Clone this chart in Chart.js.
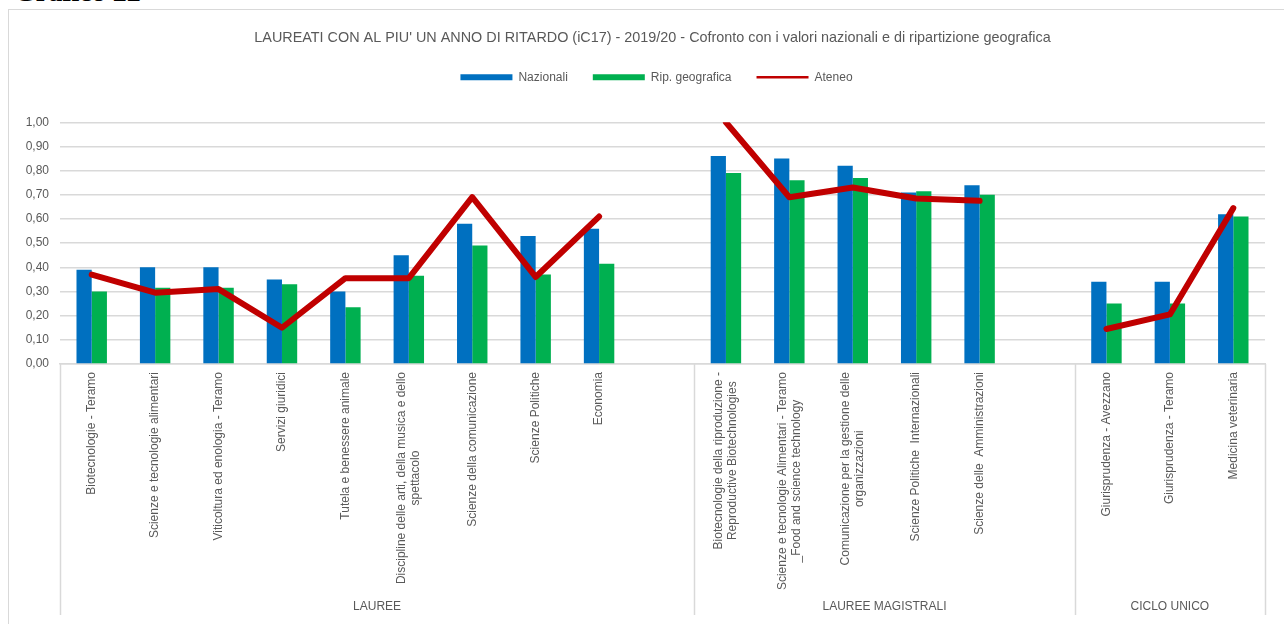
<!DOCTYPE html>
<html>
<head>
    <title>Grafico 22</title>
    <script src="https://cdn.jsdelivr.net/npm/chart.js"></script>
    <style>
        body { margin: 0; background: #fff; overflow: hidden; width: 1284px; height: 624px; position: relative; }
        #heading { position: absolute; left: 14px; top: -22px; font: bold 28px "Liberation Serif", serif; color: #000; line-height: 28px; }
        #frame { position: absolute; left: 8px; top: 9px; width: 1400px; height: 800px; border: 1px solid #d9d9d9; }
        #wrap { position: absolute; left: 0; top: 0; width: 1284px; height: 624px; }
    </style>
</head>
<body>
    <div id="heading">Grafico 22</div>
    <div id="frame"></div>
    <div id="wrap"><canvas id="ic17Chart" width="1284" height="624"></canvas></div>
    <script>
        const categories = [
            'Biotecnologie - Teramo',
            'Scienze e tecnologie alimentari',
            'Viticoltura ed enologia - Teramo',
            'Servizi giuridici',
            'Tutela e benessere animale',
            ['Discipline delle arti, della musica e dello', 'spettacolo'],
            'Scienze della comunicazione',
            'Scienze Politiche',
            'Economia',
            '',
            ['Biotecnologie della riproduzione -', 'Reproductive Biotechnologies'],
            ['Scienze e tecnologie Alimentari - Teramo', '_Food and science technology'],
            ['Comunicazione per la gestione delle', 'organizzazioni'],
            'Scienze Politiche  Internazionali',
            'Scienze delle  Amministrazioni',
            '',
            'Giurisprudenza - Avezzano',
            'Giurisprudenza - Teramo',
            'Medicina veterinaria'
        ];
        const groups = ['LAUREE', 'LAUREE MAGISTRALI', 'CICLO UNICO'];
        const groupSizes = [10, 6, 3];

        const nazionali = [0.39, 0.40, 0.40, 0.35, 0.30, 0.45, 0.58, 0.53, 0.56, null,
                           0.86, 0.85, 0.82, 0.71, 0.74, null,
                           0.34, 0.34, 0.62];
        const ripGeografica = [0.30, 0.315, 0.315, 0.33, 0.235, 0.365, 0.49, 0.37, 0.415, null,
                               0.79, 0.76, 0.77, 0.715, 0.70, null,
                               0.25, 0.25, 0.61];
        const ateneo = [0.37, 0.295, 0.31, 0.15, 0.355, 0.355, 0.69, 0.36, 0.61, null,
                        1.00, 0.69, 0.73, 0.685, 0.675, null,
                        0.145, 0.205, 0.645];

        const FONT = '"Liberation Sans", Arial, sans-serif';
        const GREY = '#595959';
        const GRID = '#d9d9d9';

        // spazio sotto la legenda e spostamento di titolo/legenda verso destra
        const layoutTweak = {
            id: 'layoutTweak',
            beforeInit(chart) {
                const fit = chart.legend.fit;
                chart.legend.fit = function () {
                    fit.call(this);
                    this.height += 29;
                };
            },
            afterLayout(chart) {
                chart.titleBlock.left += 20;
                chart.titleBlock.right += 20;
                chart.legend.left += 24;
                chart.legend.right += 24;
            }
        };

        // etichette ruotate e gruppi sotto l'asse x
        const groupAxisPlugin = {
            id: 'groupAxis',
            afterDraw(chart) {
                const xs = chart.scales.x;
                const ctx = chart.ctx;
                const bottom = 615;
                ctx.save();

                // separatori dei gruppi
                const bounds = [xs.left];
                let idx = 0;
                groupSizes.forEach(n => {
                    idx += n;
                    bounds.push(idx >= categories.length ? xs.right
                        : (xs.getPixelForValue(idx - 1) + xs.getPixelForValue(idx)) / 2);
                });
                ctx.strokeStyle = GRID;
                ctx.lineWidth = 1.5;
                bounds.forEach(b => {
                    ctx.beginPath();
                    ctx.moveTo(Math.round(b) + 0.5, xs.top);
                    ctx.lineTo(Math.round(b) + 0.5, bottom);
                    ctx.stroke();
                });

                // nomi dei corsi
                ctx.font = '12px ' + FONT;
                ctx.fillStyle = GREY;
                ctx.textAlign = 'center';
                ctx.textBaseline = 'middle';
                categories.forEach((lab, i) => {
                    if (!lab) return;
                    const lines = Array.isArray(lab) ? lab : [lab];
                    const w = Math.max(...lines.map(l => ctx.measureText(l).width));
                    ctx.save();
                    ctx.translate(xs.getPixelForValue(i), xs.top + 8 + w / 2);
                    ctx.rotate(-Math.PI / 2);
                    lines.forEach((l, j) => ctx.fillText(l, 0, (j - (lines.length - 1) / 2) * 14));
                    ctx.restore();
                });

                // nomi dei gruppi
                ctx.font = '12px ' + FONT;
                groups.forEach((g, k) => {
                    ctx.fillText(g, (bounds[k] + bounds[k + 1]) / 2, 607);
                });
                ctx.restore();
            }
        };

        new Chart(document.getElementById('ic17Chart'), {
            type: 'bar',
            data: {
                labels: categories,
                datasets: [
                    { type: 'line', label: 'Ateneo', data: ateneo, borderColor: '#C00000', backgroundColor: '#C00000',
                      borderWidth: 6, pointRadius: 0, spanGaps: false, tension: 0,
                      borderJoinStyle: 'round', borderCapStyle: 'round', order: 0 },
                    { label: 'Nazionali', data: nazionali, backgroundColor: '#0070C0', order: 1,
                      categoryPercentage: 0.48, barPercentage: 1.0 },
                    { label: 'Rip. geografica', data: ripGeografica, backgroundColor: '#00B050', order: 1,
                      categoryPercentage: 0.48, barPercentage: 1.0 }
                ]
            },
            options: {
                responsive: false,
                animation: false,
                layout: { padding: { left: 0, right: 19, top: 0, bottom: 0 } },
                plugins: {
                    title: {
                        display: true,
                        text: "LAUREATI CON AL PIU' UN ANNO DI RITARDO (iC17) - 2019/20 - Cofronto con i valori nazionali e di ripartizione geografica",
                        color: GREY,
                        font: { family: FONT, size: 14.4, weight: 'normal' },
                        padding: { top: 29, bottom: 0 }
                    },
                    legend: {
                        display: true,
                        labels: {
                            color: GREY,
                            font: { family: FONT, size: 12 },
                            usePointStyle: true,
                            pointStyleWidth: 52,
                            boxHeight: 6,
                            padding: 25,
                            generateLabels: () => [
                                { text: 'Nazionali', fillStyle: '#0070C0', strokeStyle: '#0070C0', lineWidth: 0, pointStyle: 'rect', fontColor: GREY },
                                { text: 'Rip. geografica', fillStyle: '#00B050', strokeStyle: '#00B050', lineWidth: 0, pointStyle: 'rect', fontColor: GREY },
                                { text: 'Ateneo', fillStyle: '#C00000', strokeStyle: '#C00000', lineWidth: 2.5, pointStyle: 'line', fontColor: GREY }
                            ]
                        }
                    },
                    tooltip: { enabled: false }
                },
                scales: {
                    x: {
                        offset: true,
                        grid: { display: false },
                        border: { display: true, color: GRID, width: 1.5 },
                        ticks: { display: false },
                        afterFit: s => { s.height = 260; }
                    },
                    y: {
                        min: 0,
                        max: 1,
                        ticks: {
                            stepSize: 0.1,
                            color: GREY,
                            font: { family: FONT, size: 12 },
                            padding: 11,
                            callback: v => v.toFixed(2).replace('.', ',')
                        },
                        grid: { color: GRID, lineWidth: 1.5, drawTicks: false },
                        border: { display: false },
                        afterFit: s => { s.width = 60; }
                    }
                }
            },
            plugins: [layoutTweak, groupAxisPlugin]
        });
    </script>
</body>
</html>
